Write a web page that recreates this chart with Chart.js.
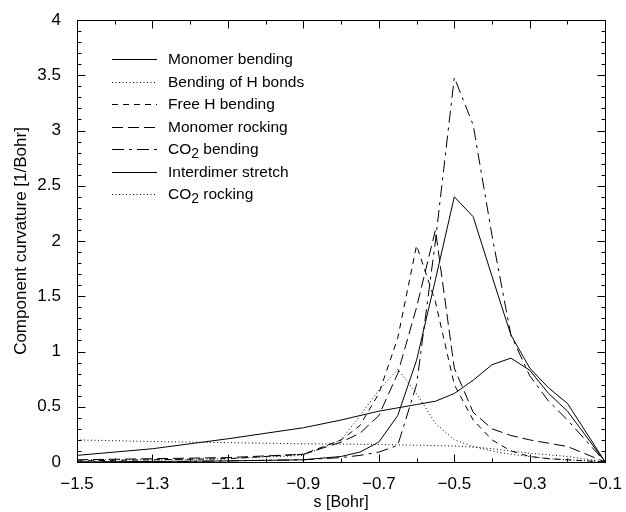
<!DOCTYPE html>
<html><head><meta charset="utf-8">
<script src="https://cdn.jsdelivr.net/npm/chart.js@4.4.1/dist/chart.umd.min.js"></script>
<style>html,body{margin:0;padding:0;background:#fff}#wrap{width:626px;height:512px}</style>
</head><body><div id="wrap"><canvas id="c" width="626" height="512"></canvas></div>
<script>
const sValues = [-1.5, -1.3, -1.1, -0.9, -0.8, -0.75, -0.7, -0.65, -0.6, -0.55, -0.5, -0.45, -0.4, -0.35, -0.3, -0.25, -0.2, -0.1];
const monomerBending   = [0.06, 0.12, 0.21, 0.31, 0.38, 0.42, 0.46, 0.49, 0.52, 0.55, 0.62, 0.74, 0.88, 0.94, 0.83, 0.62, 0.46, 0];
const bendingHBonds    = [0.2, 0.185, 0.175, 0.165, 0.162, 0.16, 0.158, 0.155, 0.152, 0.148, 0.145, 0.135, 0.12, 0.1, 0.08, 0.065, 0.05, 0];
const freeHBending     = [0.01, 0.02, 0.03, 0.07, 0.2, 0.33, 0.62, 1.12, 1.96, 1.45, 0.7, 0.38, 0.2, 0.1, 0.05, 0.03, 0.02, 0];
const monomerRocking   = [0.02, 0.03, 0.04, 0.07, 0.18, 0.26, 0.42, 0.8, 1.4, 2.1, 0.85, 0.45, 0.3, 0.24, 0.2, 0.17, 0.14, 0];
const co2Bending       = [0, 0, 0.01, 0.02, 0.04, 0.06, 0.09, 0.15, 0.7, 2.0, 3.48, 3.05, 2.05, 1.15, 0.78, 0.55, 0.38, 0];
const interdimerStretch= [0, 0.005, 0.01, 0.02, 0.05, 0.09, 0.18, 0.42, 0.92, 1.65, 2.4, 2.22, 1.68, 1.15, 0.85, 0.67, 0.53, 0];
const co2Rocking       = [0.02, 0.02, 0.03, 0.06, 0.2, 0.42, 0.65, 0.84, 0.62, 0.35, 0.2, 0.14, 0.1, 0.07, 0.05, 0.03, 0.02, 0];

const seriesLabels = ['Monomer bending', 'Bending of H bonds', 'Free H bending', 'Monomer rocking', 'CO2 bending', 'Interdimer stretch', 'CO2 rocking'];
const xTickValues = [-1.5, -1.3, -1.1, -0.9, -0.7, -0.5, -0.3, -0.1];
const yTickValues = [0, 0.5, 1, 1.5, 2, 2.5, 3, 3.5, 4];

const seriesValues = [monomerBending, bendingHBonds, freeHBending, monomerRocking, co2Bending, interdimerStretch, co2Rocking];
const dashes = [[], [1, 2.5], [6, 5], [11, 5], [12, 5, 3, 5], [], [1, 2.5]];

const FONT = 'Liberation Sans, Arial, Helvetica, sans-serif';

const datasets = seriesValues.map((vals, i) => ({
  label: seriesLabels[i],
  data: sValues.map((s, j) => ({x: s, y: vals[j]})),
  borderColor: '#000',
  backgroundColor: '#000',
  borderWidth: 1,
  borderDash: dashes[i],
  pointRadius: 0,
  fill: false,
  tension: 0
}));

function fmt(v) {
  const s = String(Math.round(v * 10) / 10);
  return s.replace('-', '\u2212');
}

const framePlugin = {
  id: 'frameTicks',
  afterDraw(chart) {
    const {ctx, chartArea: a, scales: {x, y}} = chart;
    ctx.save();
    ctx.strokeStyle = '#000';
    ctx.lineWidth = 1;
    ctx.setLineDash([]);
    const L = Math.round(a.left) + 0.5, R = Math.round(a.right) + 0.5;
    const T = Math.round(a.top) + 0.5, B = Math.round(a.bottom) + 0.5;
    ctx.strokeRect(L, T, R - L, B - T);
    ctx.beginPath();
    for (let k = 0; k <= 14; k++) {
      const v = -1.5 + k * 0.1;
      const px = Math.round(x.getPixelForValue(v)) + 0.5;
      const len = (k % 2 === 0) ? 8 : 4;
      ctx.moveTo(px, B); ctx.lineTo(px, B - len);
      ctx.moveTo(px, T); ctx.lineTo(px, T + len);
    }
    for (let k = 0; k <= 40; k++) {
      const v = k * 0.1;
      const py = Math.round(y.getPixelForValue(v)) + 0.5;
      const len = (k % 5 === 0) ? 8 : 4;
      ctx.moveTo(L, py); ctx.lineTo(L + len, py);
      ctx.moveTo(R, py); ctx.lineTo(R - len, py);
    }
    ctx.stroke();

    // legend
    const x0 = 112, x1 = 157, tx = 168, y0 = 59, dy = 22.5;
    const big = '15.5px ' + FONT, small = '14px ' + FONT;
    ctx.fillStyle = '#000';
    ctx.textBaseline = 'middle';
    ctx.textAlign = 'left';
    chart.data.datasets.forEach((ds, i) => {
      const yy = Math.round(y0 + i * dy) + 0.5;
      ctx.setLineDash(ds.borderDash);
      ctx.beginPath();
      ctx.moveTo(x0, yy); ctx.lineTo(x1, yy);
      ctx.stroke();
      ctx.setLineDash([]);
      const label = ds.label;
      ctx.font = big;
      if (label.startsWith('CO2')) {
        ctx.fillText('CO', tx, yy);
        const w = ctx.measureText('CO').width;
        ctx.font = small;
        ctx.fillText('2', tx + w, yy + 5);
        const w2 = ctx.measureText('2').width;
        ctx.font = big;
        ctx.fillText(label.slice(3), tx + w + w2, yy);
      } else {
        ctx.fillText(label, tx, yy);
      }
    });
    ctx.restore();
  }
};

new Chart(document.getElementById('c'), {
  type: 'line',
  data: {datasets},
  plugins: [framePlugin],
  options: {
    responsive: false,
    devicePixelRatio: 1,
    animation: false,
    events: [],
    layout: {padding: {left: 0, top: 20, right: 15, bottom: 0}},
    plugins: {legend: {display: false}, tooltip: {enabled: false}},
    scales: {
      x: {
        type: 'linear', min: -1.5, max: -0.1,
        afterBuildTicks: s => { s.ticks = xTickValues.map(v => ({value: v})); },
        afterFit: s => { s.height = 50; },
        grid: {display: false},
        border: {display: false},
        ticks: {color: '#000', font: {family: FONT, size: 17}, padding: 4, maxRotation: 0, callback: v => fmt(v)},
        title: {display: true, text: 's [Bohr]', color: '#000', font: {family: FONT, size: 16}, padding: {top: 0, bottom: 0}}
      },
      y: {
        type: 'linear', min: 0, max: 4,
        afterBuildTicks: s => { s.ticks = yTickValues.map(v => ({value: v})); },
        afterFit: s => { s.width = 77; },
        grid: {display: false},
        border: {display: false},
        ticks: {color: '#000', font: {family: FONT, size: 17}, padding: 8, callback: v => String(v)},
        title: {display: true, text: 'Component curvature [1/Bohr]', color: '#000', font: {family: FONT, size: 17}, padding: {top: 11, bottom: 0}}
      }
    }
  }
});
</script>
</body></html>
